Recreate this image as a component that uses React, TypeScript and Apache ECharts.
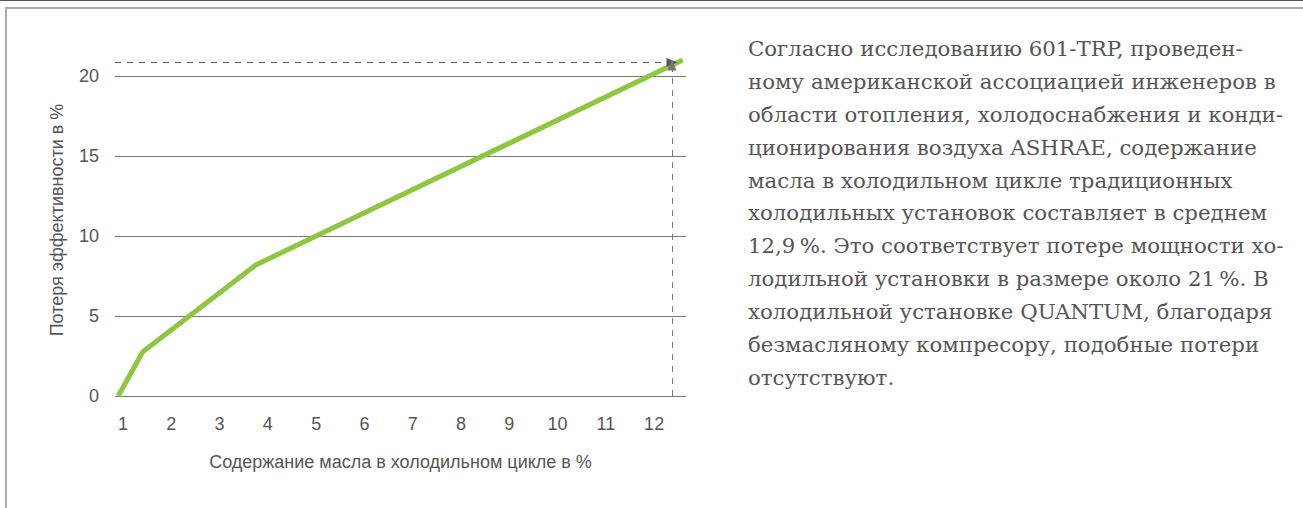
import React, { useEffect, useRef } from "react";
import * as echarts from "echarts";

// Data
const lossSeries: [number, number][] = [
  [0.9, 0],
  [1.41, 2.77],
  [3.75, 8.19],
  [12.59, 21.0],
];
const xTickValues = [1, 2, 3, 4, 5, 6, 7, 8, 9, 10, 11, 12];
const yTickValues = [0, 5, 10, 15, 20];
const refPoint: [number, number] = [12.37, 20.85];
const refArrowTop = 20.69;
const X_MIN = 0.834;
const X_MAX = 12.66;
const Y_MAX = 22;

const xAxisTitle = "Содержание масла в холодильном цикле в %";
const yAxisTitle = "Потеря эффективности в %";
const noteLines = [
  "Согласно исследованию 601-TRP, проведен-",
  "ному американской ассоциацией инженеров в",
  "области отопления, холодоснабжения и конди-",
  "ционирования воздуха ASHRAE, содержание",
  "масла в холодильном цикле традиционных",
  "холодильных установок составляет в среднем",
  "12,9\u2009%. Это соответствует потере мощности хо-",
  "лодильной установки в размере около 21\u2009%. В",
  "холодильной установке QUANTUM, благодаря",
  "безмасляному компресору, подобные потери",
  "отсутствуют.",
];

const SANS = "'Liberation Sans', Arial, sans-serif";
const SERIF = "'DejaVu Serif', Georgia, serif";

export default function App() {
  const ref = useRef<HTMLDivElement>(null);
  useEffect(() => {
    if (!ref.current) return;
    const chart = echarts.init(ref.current, null, { renderer: "svg" });
    chart.setOption({
      animation: false,
      backgroundColor: "#fff",
      grid: { left: 115, right: 617, top: 44, bottom: 112 },
      xAxis: {
        type: "value",
        min: X_MIN,
        max: X_MAX,
        name: xAxisTitle,
        nameLocation: "middle",
        nameGap: 57,
        nameTextStyle: { fontFamily: SANS, fontSize: 18, color: "#555" },
        axisLine: { show: false },
        axisTick: { show: false },
        splitLine: { show: false },
        axisLabel: {
          customValues: xTickValues,
          fontFamily: SANS,
          fontSize: 18,
          color: "#555",
          margin: 19,
        },
      },
      yAxis: {
        type: "value",
        min: 0,
        max: Y_MAX,
        interval: 5,
        name: yAxisTitle,
        nameLocation: "middle",
        nameGap: 49,
        nameTextStyle: { fontFamily: SANS, fontSize: 18, color: "#555" },
        axisLine: { show: false },
        axisTick: { show: false },
        splitLine: {
          show: true,
          showMaxLine: false,
          lineStyle: { color: "#777", width: 1 },
        },
        axisLabel: {
          customValues: yTickValues,
          fontFamily: SANS,
          fontSize: 18,
          color: "#555",
          margin: 16,
        },
      },
      graphic: [
        {
          type: "line",
          shape: { x1: 0, y1: 0.5, x2: 1303, y2: 0.5 },
          style: { stroke: "#555", lineWidth: 1 },
          silent: true,
        },
        {
          type: "polyline",
          shape: { points: [[6, 520], [6, 8], [1310, 8]] },
          style: { fill: "none", stroke: "#aaa", lineWidth: 2 },
          silent: true,
        },
        {
          type: "text",
          left: 748,
          top: 32,
          style: {
            text: noteLines.join("\n"),
            font: `21.3px ${SERIF}`,
            fill: "#555",
            lineHeight: 32.9,
          },
          silent: true,
        },
      ],
      series: [
        {
          type: "line",
          data: lossSeries,
          showSymbol: false,
          lineStyle: { color: "#8dc63f", width: 5 },
          silent: true,
          markLine: {
            silent: true,
            animation: false,
            label: { show: false },
            data: [
              [
                {
                  coord: [X_MIN, refPoint[1]],
                  symbol: "none",
                  lineStyle: { color: "#555", width: 1, type: [6, 6] },
                },
                { coord: [refPoint[0], refPoint[1]], symbol: "triangle", symbolSize: [9, 11] },
              ],
              [
                {
                  coord: [refPoint[0], 0],
                  symbol: "none",
                  lineStyle: { color: "#777", width: 1, type: [6, 6] },
                },
                { coord: [refPoint[0], refArrowTop], symbol: "triangle", symbolSize: [9, 11] },
              ],
            ],
          },
        },
      ],
    });
    return () => chart.dispose();
  }, []);
  return (
    <div
      ref={ref}
      style={{ position: "absolute", left: 0, top: 0, width: 1303, height: 508, background: "#fff" }}
    />
  );
}
